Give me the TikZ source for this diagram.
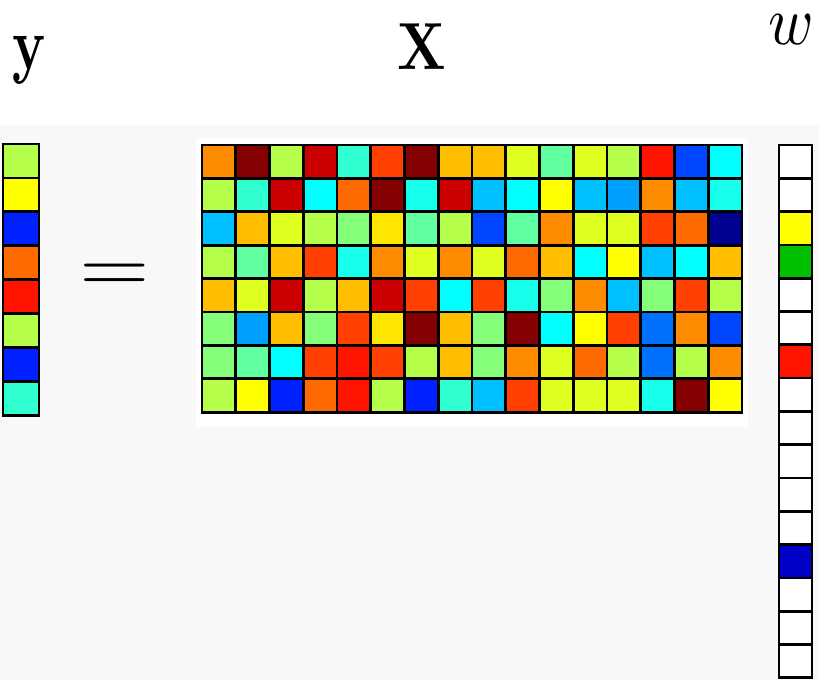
\documentclass[tikz,border=0pt]{standalone}
\usepackage{tikz}
\usetikzlibrary{positioning}

% jet palette
\definecolor{jdred}{HTML}{850000}
\definecolor{jred2}{HTML}{CC0000}
\definecolor{jred}{HTML}{FF1400}
\definecolor{jredor}{HTML}{FF4000}
\definecolor{jtang}{HTML}{FF6A00}
\definecolor{jorange}{HTML}{FF8C00}
\definecolor{jamber}{HTML}{FFBF00}
\definecolor{jgold}{HTML}{FFE600}
\definecolor{jyel}{HTML}{FFFF00}
\definecolor{jyelgr}{HTML}{DFFF20}
\definecolor{jlime}{HTML}{B5FF4A}
\definecolor{jlgreen}{HTML}{85FF7A}
\definecolor{jmint}{HTML}{60FFA0}
\definecolor{jaqua}{HTML}{30FFCF}
\definecolor{jturq}{HTML}{15FFEA}
\definecolor{jcyan}{HTML}{00FFFF}
\definecolor{jsky}{HTML}{00C0FF}
\definecolor{jsky2}{HTML}{00A0FF}
\definecolor{jblue2}{HTML}{0070FF}
\definecolor{jblue}{HTML}{0045FF}
\definecolor{jdblue}{HTML}{0020FF}
\definecolor{jnavy}{HTML}{000090}
\definecolor{jgreen}{HTML}{00C000}
\definecolor{jwblue}{HTML}{0000C8}
\definecolor{bggray}{HTML}{F8F8F8}

\begin{document}
\begin{tikzpicture}[
		x=0.75pt, y=-0.75pt,
		% Define Styles
		tile/.style={draw=black, line width=2pt},
		symb/.style={inner sep=0pt, anchor=base}
		]
		\useasboundingbox (0,0) rectangle (819,680);
		% Background
		\fill[white] (0,0) rectangle (819,125);
		\fill[bggray] (0,125) rectangle (819,680);
		\fill[white] (196,138) rectangle (748,427);

		% Labels
		\node[symb, xscale=4.1, yscale=5.6] (ylab) at (30,70) {$\mathbf{y}$};
		\node[symb, xscale=4.2, yscale=5.0] (Xlab) at (422,70) {$\mathbf{X}$};
		\node[symb, xscale=4.6, yscale=5.2] (wlab) at (791,45) {$w$};
		\node[xscale=6.8, yscale=5.6] (eq) at (115,278) {$=$};

		% Matrix X
		\foreach \cols [count=\r] in {
			{jorange,jdred,jlime,jred2,jaqua,jredor,jdred,jamber,jamber,jyelgr,jmint,jyelgr,jlime,jred,jblue,jcyan},
			{jlime,jaqua,jred2,jcyan,jtang,jdred,jturq,jred2,jsky,jcyan,jyel,jsky,jsky2,jorange,jsky,jturq},
			{jsky,jamber,jyelgr,jlime,jlgreen,jgold,jmint,jlime,jblue,jmint,jorange,jyelgr,jyelgr,jredor,jtang,jnavy},
			{jlime,jmint,jamber,jredor,jturq,jorange,jyelgr,jorange,jyelgr,jtang,jamber,jcyan,jyel,jsky,jcyan,jamber},
			{jamber,jyelgr,jred2,jlime,jamber,jred2,jredor,jcyan,jredor,jturq,jlgreen,jorange,jsky,jlgreen,jredor,jlime},
			{jlgreen,jsky2,jamber,jlgreen,jredor,jgold,jdred,jamber,jlgreen,jdred,jcyan,jyel,jredor,jblue2,jorange,jblue},
			{jlgreen,jmint,jcyan,jredor,jred,jredor,jlime,jamber,jlgreen,jorange,jyelgr,jtang,jlime,jblue2,jlime,jorange},
			{jlime,jyel,jdblue,jtang,jred,jlime,jdblue,jaqua,jsky,jredor,jyelgr,jyelgr,jyelgr,jturq,jdred,jyel}}
		{
			\foreach \c [count=\k] in \cols
				\draw[tile, fill=\c] ({202+(\k-1)*33.75},{145+(\r-1)*33.4}) rectangle ++(33.75,33.4);
		}

		% Vector y
		\foreach \c [count=\r] in {jlime,jyel,jdblue,jtang,jred,jlime,jdblue,jaqua}
			\draw[tile, fill=\c] (3,{144+(\r-1)*33.9}) rectangle ++(36,33.9);

		% Vector w (sparse)
		\foreach \c [count=\r] in {white,white,jyel,jgreen,white,white,jred,white,white,white,white,white,jwblue,white,white,white}
			\draw[tile, fill=\c] (779,{145+(\r-1)*33.3}) rectangle ++(33,33.3);
	\end{tikzpicture}
\end{document}
